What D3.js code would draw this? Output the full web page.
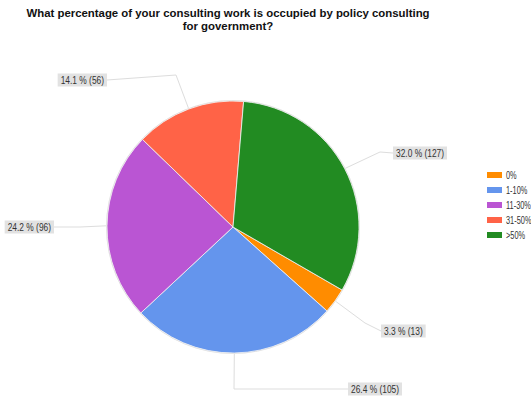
<!DOCTYPE html>
<html>
<head>
<meta charset="utf-8">
<script src="https://cdn.jsdelivr.net/npm/d3@7"></script>
<style>
  html, body { margin: 0; padding: 0; background: #fff; }
  svg { display: block; font-family: "Liberation Sans", Arial, sans-serif; }
</style>
</head>
<body>
<svg id="chart" width="531" height="398"></svg>
<script>
// Survey answers: share of consulting work spent on policy consulting for government
const categories = ["0%", "1-10%", "11-30%", "31-50%", ">50%"];
const counts = [13, 105, 96, 56, 127];
const percentLabels = ["3.3 %", "26.4 %", "24.2 %", "14.1 %", "32.0 %"];
const colors = ["#ff8c00", "#6495ed", "#ba55d3", "#ff6347", "#228b22"];

const titleLines = [
  "What percentage of your consulting work is occupied by policy consulting",
  "for government?"
];

const svg = d3.select("#chart");
const cx = 233, cy = 227, r = 126;

// Title
svg.append("g").selectAll("text")
  .data(titleLines)
  .join("text")
  .attr("x", 228)
  .attr("y", (d, i) => 17 + i * 12.5)
  .attr("text-anchor", "middle")
  .attr("font-size", 11.4)
  .attr("font-weight", "bold")
  .attr("fill", "#111")
  .text(d => d);

const data = categories.map((c, i) => ({ cat: c, n: counts[i], pct: percentLabels[i], color: colors[i] }));

const pie = d3.pie()
  .sort(null)
  .value(d => d.n)
  .startAngle(120 * Math.PI / 180)
  .endAngle(480 * Math.PI / 180);

const arcs = pie(data);
const arc = d3.arc().innerRadius(0).outerRadius(r);

const g = svg.append("g").attr("transform", `translate(${cx},${cy})`);

// Light outer ring
g.append("circle").attr("r", r + 0.5).attr("fill", "none").attr("stroke", "#ddd").attr("stroke-width", 1);

g.selectAll("path.slice")
  .data(arcs)
  .join("path")
  .attr("class", "slice")
  .attr("d", arc)
  .attr("fill", d => d.data.color)
  .attr("stroke", "#f2f2f2")
  .attr("stroke-width", 0.8);

// Small condensed text, as used by the callouts and legend
const SX = 0.84;
function condensedText(parent, x, y, str, anchor, size, sx) {
  return parent.append("text")
    .attr("transform", `translate(${x},${y}) scale(${sx},1)`)
    .attr("text-anchor", anchor)
    .attr("font-size", size)
    .attr("fill", "#333")
    .text(str);
}

// Callout labels: leader line from the slice's mid-angle edge, via an elbow, to a boxed label
const callouts = {
  "0%":     { elbow: [365, 323], end: [381, 331], anchor: "start" },
  "1-10%":  { elbow: [234, 389], end: [348, 389], anchor: "start" },
  "11-30%": { elbow: [80, 227],  end: [54, 227],  anchor: "end" },
  "31-50%": { elbow: [176, 75],  end: [107, 80],  anchor: "end" },
  ">50%":   { elbow: [380, 152], end: [393, 153], anchor: "start" }
};

const labelG = svg.append("g");
arcs.forEach(d => {
  const c = callouts[d.data.cat];
  const a = (d.startAngle + d.endAngle) / 2;
  const px = cx + Math.sin(a) * (r + 1);
  const py = cy - Math.cos(a) * (r + 1);
  labelG.append("polyline")
    .attr("points", [[px, py], c.elbow, c.end].map(p => p.join(",")).join(" "))
    .attr("fill", "none")
    .attr("stroke", "#ddd")
    .attr("stroke-width", 1);

  const tx = c.end[0] + (c.anchor === "start" ? 3 : -3);
  const t = condensedText(labelG, tx, c.end[1] + 3.5, `${d.data.pct} (${d.data.n})`, c.anchor, 10, SX);
  const w = t.node().getBBox().width * SX;
  labelG.insert("rect", "text")
    .attr("x", c.anchor === "start" ? tx - 3 : tx - w - 3)
    .attr("y", c.end[1] - 6.5)
    .attr("width", w + 6)
    .attr("height", 13)
    .attr("fill", "#e2e2e2");
});

// Legend
const legend = svg.append("g").attr("transform", "translate(487,172)");
data.forEach((d, i) => {
  legend.append("rect")
    .attr("y", i * 15)
    .attr("width", 15).attr("height", 6)
    .attr("fill", d.color);
  condensedText(legend, 19, i * 15 + 7, d.cat, "start", 10, 0.74);
});
</script>
</body>
</html>
